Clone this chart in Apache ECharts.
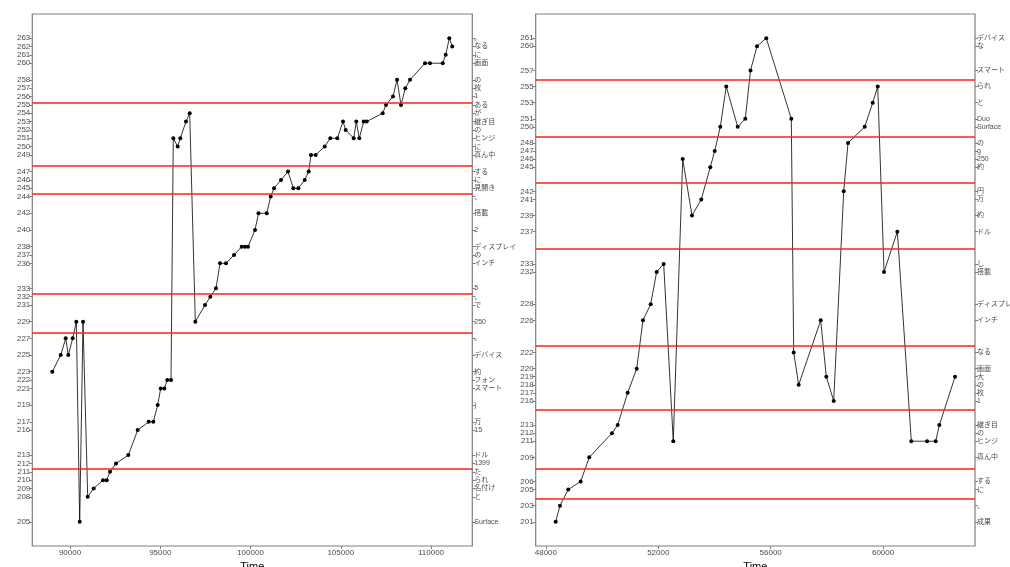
<!DOCTYPE html>
<html>
<head>
<meta charset="utf-8">
<script src="https://cdn.jsdelivr.net/npm/echarts@6/dist/echarts.min.js"></script>
<style>
  html, body { margin: 0; padding: 0; background: #fff; }
  #chart { width: 1010px; height: 567px; }
</style>
</head>
<body>
<div id="chart"></div>
<script>
// Left panel: word position over time
const leftTime = [89019, 89485, 89762, 89906, 90150, 90349, 90537, 90720, 90981, 91313,
  91828, 92033, 92216, 92548, 93230, 93750, 94360, 94615, 94858, 95024,
  95224, 95390, 95595, 95722, 95966, 96110, 96426, 96631, 96942, 97479,
  97773, 98088, 98310, 98642, 99086, 99512, 99695, 99861, 100249, 100443,
  100897, 101119, 101302, 101689, 102077, 102371, 102648, 103002, 103224, 103351,
  103612, 104110, 104421, 104808, 105124, 105274, 105717, 105861, 106027, 106270,
  106437, 107323, 107506, 107894, 108116, 108337, 108576, 108836, 109667, 109944,
  110648, 110814, 111013, 111179];
const leftPos = [223, 225, 227, 225, 227, 229, 205, 229, 208, 209,
  210, 210, 211, 212, 213, 216, 217, 217, 219, 221,
  221, 222, 222, 251, 250, 251, 253, 254, 229, 231,
  232, 233, 236, 236, 237, 238, 238, 238, 240, 242,
  242, 244, 245, 246, 247, 245, 245, 246, 247, 249,
  249, 250, 251, 251, 253, 252, 251, 253, 251, 253,
  253, 254, 255, 256, 258, 255, 257, 258, 260, 260,
  260, 261, 263, 262];

// Right panel: word position over time
const rightTime = [48349, 48502, 48797, 49238, 49545, 50352, 50555, 50911, 51232, 51456,
  51730, 51943, 52193, 52534, 52869, 53200, 53531, 53851, 54008, 54207,
  54420, 54826, 55097, 55282, 55513, 55844, 56734, 56819, 56997, 57780,
  57980, 58243, 58599, 58752, 59346, 59631, 59809, 60033, 60507, 61005,
  61564, 61873, 62001, 62560];
const rightPos = [201, 203, 205, 206, 209, 212, 213, 217, 220, 226,
  228, 232, 233, 211, 246, 239, 241, 245, 247, 250,
  255, 250, 251, 257, 260, 261, 251, 222, 218, 226,
  219, 216, 242, 248, 250, 253, 255, 232, 237, 211,
  211, 211, 213, 219];

// Tick positions and the word at each position
const leftTickPos = [263, 262, 261, 260, 258, 257, 256, 255, 254, 253, 252, 251, 250, 249,
  247, 246, 245, 244, 242, 240, 238, 237, 236, 233, 232, 231, 229, 227, 225, 223,
  222, 221, 219, 217, 216, 213, 212, 211, 210, 209, 208, 205];
const leftTickWords = ['。', 'なる', 'に', '画面', 'の', '枚', '1', 'ある', 'が', '継ぎ目', 'の', 'ヒンジ', 'に', '真ん中',
  'する', 'に', '見開き', '、', '搭載', '2', 'ディスプレイ', 'の', 'インチ', '5', '、', 'で', '250', '。', 'デバイス', '約',
  'フォン', 'スマート', ')', '万', '15', 'ドル', '1399', 'た', 'られ', '名付け', 'と', 'Surface'];

const rightTickPos = [261, 260, 257, 255, 253, 251, 250, 248, 247, 246, 245, 242, 241, 239,
  237, 233, 232, 228, 226, 222, 220, 219, 218, 217, 216, 213, 212, 211, 209, 206,
  205, 203, 201];
const rightTickWords = ['デバイス', 'な', 'スマート', 'られ', 'と', 'Duo', 'Surface', 'の', 'g', '250', '約', '円', '万', '約',
  'ドル', 'し', '搭載', 'ディスプレイ', 'インチ', 'なる', '画面', '大', 'の', '枚', '1', '継ぎ目', 'の', 'ヒンジ', '真ん中', 'する',
  'に', '、', '成果'];

// Segment boundaries (horizontal reference lines)
const leftBreaks = [255.3, 247.7, 244.4, 232.3, 227.7, 211.4];
const rightBreaks = [255.9, 248.8, 243.1, 234.85, 222.85, 214.9, 207.6, 203.86];

// Time axis ticks
const leftTimeTicks = [90000, 95000, 100000, 105000, 110000];
const rightTimeTicks = [48000, 52000, 56000, 60000];

// Pad a data range by 5% on each side
function padded(values) {
  const lo = Math.min(...values), hi = Math.max(...values);
  const d = (hi - lo) * 0.05;
  return [lo - d, hi + d];
}

const zip = (a, b) => a.map((v, i) => [v, b[i]]);
const wordMap = (pos, words) => {
  const m = {};
  pos.forEach((p, i) => { m[p] = words[i]; });
  return m;
};
const leftWordAt = wordMap(leftTickPos, leftTickWords);
const rightWordAt = wordMap(rightTickPos, rightTickWords);

const [lxMin, lxMax] = padded(leftTime);
const [rxMin, rxMax] = padded(rightTime);
const [lyMin, lyMax] = padded(leftPos);
const [ryMin, ryMax] = padded(rightPos);

const GREY = '#7f7f7f';
const TXT = '#4d4d4d';
const FONT = '"Liberation Sans", "Noto Sans CJK JP", sans-serif';

function timeAxis(grid, min, max, ticks) {
  return {
    gridIndex: grid, type: 'value', min: min, max: max,
    axisLine: { show: false },
    splitLine: { show: false },
    axisTick: { show: true, customValues: ticks, length: 3, lineStyle: { color: GREY, width: 1 } },
    axisLabel: { customValues: ticks, formatter: v => String(v), fontSize: 8, color: TXT, margin: 3, fontFamily: FONT },
    name: 'Time', nameLocation: 'middle', nameGap: 12,
    nameTextStyle: { fontSize: 11, color: '#000', fontFamily: FONT }
  };
}

function posAxis(grid, side, min, max, ticks, fmt, size) {
  return {
    gridIndex: grid, type: 'value', position: side, min: min, max: max,
    axisLine: { show: false },
    splitLine: { show: false },
    axisTick: { show: true, customValues: ticks, length: 3, lineStyle: { color: GREY, width: 1 } },
    axisLabel: { customValues: ticks, formatter: fmt, fontSize: size, color: TXT, margin: 2, fontFamily: FONT }
  };
}

function breakLines(vals) {
  return {
    silent: true,
    symbol: ['none', 'none'],
    label: { show: false },
    lineStyle: { color: '#ff1f1f', width: 1.6, type: 'solid' },
    data: vals.map(v => ({ yAxis: v }))
  };
}

const chart = echarts.init(document.getElementById('chart'), null, { renderer: 'canvas' });
chart.setOption({
  animation: false,
  backgroundColor: '#fff',
  grid: [
    { left: 32.3, right: 537.7, top: 14, bottom: 21, show: true, borderColor: GREY, borderWidth: 1.2,
      backgroundColor: 'transparent', containLabel: false, outerBoundsMode: 'none' },
    { left: 535.7, right: 35, top: 14, bottom: 21, show: true, borderColor: GREY, borderWidth: 1.2,
      backgroundColor: 'transparent', containLabel: false, outerBoundsMode: 'none' }
  ],
  xAxis: [
    timeAxis(0, lxMin, lxMax, leftTimeTicks),
    timeAxis(1, rxMin, rxMax, rightTimeTicks)
  ],
  yAxis: [
    posAxis(0, 'left', lyMin, lyMax, leftTickPos, v => String(Math.round(v)), 8),
    posAxis(0, 'right', lyMin, lyMax, leftTickPos, v => leftWordAt[Math.round(v)] || '', 7),
    posAxis(1, 'left', ryMin, ryMax, rightTickPos, v => String(Math.round(v)), 8),
    posAxis(1, 'right', ryMin, ryMax, rightTickPos, v => rightWordAt[Math.round(v)] || '', 7)
  ],
  series: [
    {
      type: 'line', xAxisIndex: 0, yAxisIndex: 0,
      data: zip(leftTime, leftPos),
      symbol: 'circle', symbolSize: 4,
      lineStyle: { color: '#000', width: 0.8 },
      itemStyle: { color: '#000' },
      markLine: breakLines(leftBreaks)
    },
    {
      type: 'line', xAxisIndex: 1, yAxisIndex: 2,
      data: zip(rightTime, rightPos),
      symbol: 'circle', symbolSize: 4,
      lineStyle: { color: '#000', width: 0.8 },
      itemStyle: { color: '#000' },
      markLine: breakLines(rightBreaks)
    }
  ]
});
</script>
</body>
</html>
